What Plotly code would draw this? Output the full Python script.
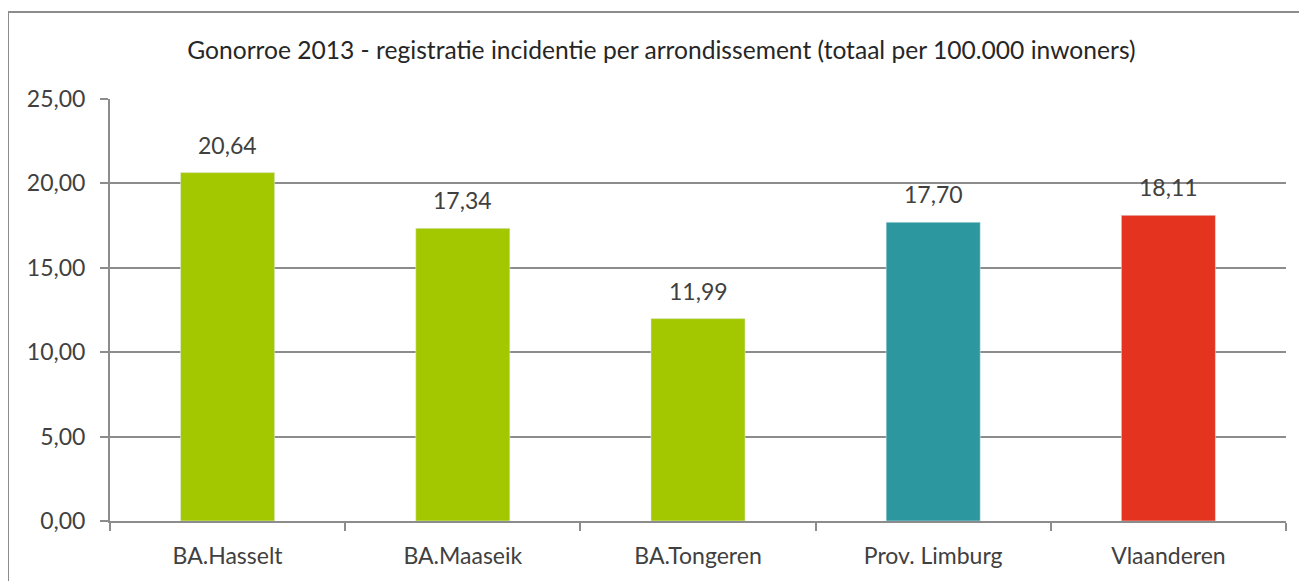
import plotly.graph_objects as go

categories = ["BA.Hasselt", "BA.Maaseik", "BA.Tongeren", "Prov. Limburg", "Vlaanderen"]
values = [20.64, 17.34, 11.99, 17.70, 18.11]
colors = ["#A3C800", "#A3C800", "#A3C800", "#2C979E", "#E43420"]
y_ticks = [0, 5, 10, 15, 20, 25]
title = "Gonorroe 2013 - registratie incidentie per arrondissement (totaal per 100.000 inwoners)"

def fmt(v):
    return f"{v:.2f}".replace(".", ",")

FONT = "Lato, 'Open Sans', sans-serif"
FS = 23
fig = go.Figure(go.Bar(x=categories, y=values, marker_color=colors, width=0.4, hoverinfo="skip"))

for c, v in zip(categories, values):
    fig.add_annotation(x=c, y=v, text=fmt(v), showarrow=False, yanchor="bottom", yshift=12,
                       font=dict(family=FONT, size=FS, color="#404040"))

# page has an 8px body margin, so the figure is sized to fit the 1307x581 window
W, H = 1299, 573
ml, mr, mt, mb = 102, 21, 91, 60
pw, ph = W - ml - mr, H - mt - mb
fig.add_shape(type="rect", xref="paper", yref="paper",
              x0=(0 - ml) / pw, x1=(W + 20 - ml) / pw,
              y0=-(mb + 20) / ph, y1=1 + (mt - 4) / ph,
              line=dict(color="#8c8c8c", width=2), fillcolor="rgba(0,0,0,0)", layer="below")

fig.update_layout(
    width=W, height=H,
    margin=dict(l=ml, r=mr, t=mt, b=mb),
    paper_bgcolor="white", plot_bgcolor="white",
    showlegend=False,
    title=dict(text=title, x=0.503, xanchor="center", y=1 - 42 / H, yanchor="middle",
               font=dict(family=FONT, size=24.6, color="#262626")),
    font=dict(family=FONT, size=FS, color="#404040"),
    xaxis=dict(showline=True, linecolor="#8c8c8c", linewidth=2, ticks="outside", tickson="boundaries",
               ticklen=8, tickcolor="#8c8c8c", tickwidth=2, showgrid=False, ticklabelstandoff=13,
               tickfont=dict(family=FONT, size=FS, color="#404040")),
    yaxis=dict(range=[0, 25], tickvals=y_ticks, ticktext=[fmt(t) for t in y_ticks],
               showline=True, linecolor="#8c8c8c", linewidth=2, ticks="outside", ticklen=8,
               tickcolor="#8c8c8c", tickwidth=2, showgrid=True, gridcolor="#8c8c8c", gridwidth=2,
               zeroline=False, ticklabelstandoff=10, automargin=False,
               tickfont=dict(family=FONT, size=FS, color="#404040")),
)
fig.update_xaxes(automargin=False)

fig.write_html("out.html")
